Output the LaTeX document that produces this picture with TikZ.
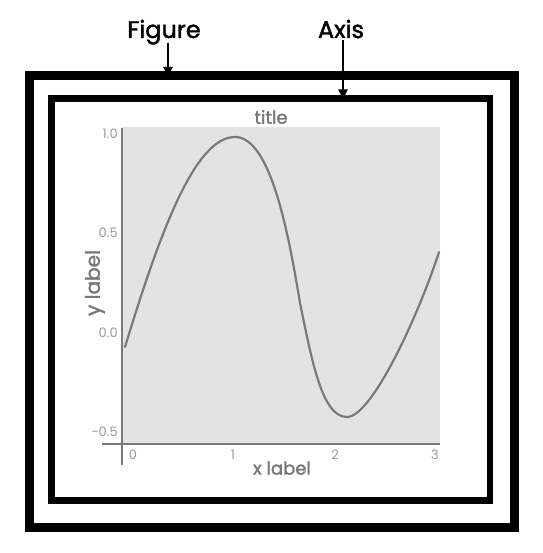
\documentclass[tikz,border=0pt]{standalone}
\usepackage{fontspec}
\setmainfont{Poppins}
\newfontfamily\heavyfont{Poppins}[FakeBold=1.6]
\usepackage{xcolor}
\usetikzlibrary{arrows.meta,positioning}
\definecolor{PlotFill}{HTML}{E3E3E3}
\definecolor{PlotLine}{HTML}{7A7A7A}
\definecolor{PlotText}{HTML}{777777}
\definecolor{TickText}{HTML}{9A9A9A}
\begin{document}
\begin{tikzpicture}[x=1pt,y=-1pt,
  frame/.style={draw=black,inner sep=0pt,outer sep=0pt},
  callout/.style={font=\heavyfont\fontsize{24}{24}\selectfont,anchor=base,text=black,inner sep=0pt},
  pointer/.style={-{Triangle[length=10pt,width=9pt]},draw=black,line width=2pt,shorten >=-1pt},
  spine/.style={draw=PlotLine,line width=2pt},
  tick/.style={font=\fontsize{13}{13}\selectfont,text=TickText,inner sep=0pt},
  axlabel/.style={font=\heavyfont\fontsize{18}{18}\selectfont,text=PlotText,inner sep=0pt}
]
\useasboundingbox[fill=white] (0,0) rectangle (542,553);
% frames
\node[frame,line width=9pt,minimum width=485pt,minimum height=451pt] (fig) at (271.5,301.5) {};
\node[frame,line width=6.5pt,minimum width=438.5pt,minimum height=402pt] (ax) at (270.75,299.5) {};
% callouts
\node[callout] (figlbl) at (164,38) {Figure};
\node[callout] (axlbl) at (341,38) {Axis};
\draw[pointer] ([xshift=4pt,yshift=-5pt]figlbl.base) -- ([xshift=4pt]figlbl.base |- fig.north);
\draw[pointer] ([xshift=2pt,yshift=-2pt]axlbl.base) -- ([xshift=2pt]axlbl.base |- ax.north);
% plot area
\node[fill=PlotFill,inner sep=0pt,minimum width=318pt,minimum height=316pt,anchor=north west] (area) at (122,127) {};
\draw[PlotLine,line width=2.2pt,line cap=round]
  (125,347) .. controls (160,232) and (195,137) .. (235,137)
  .. controls (270,137) and (288,230) .. (300,303)
  .. controls (312,361) and (322,417) .. (347,417)
  .. controls (372,417) and (419,314) .. (439,252);
\coordinate (ytop) at (122,128);
\coordinate (ybot) at (122,465);
\coordinate (xleft) at (102,444);
\coordinate (xright) at (440,444);
\draw[spine] (ytop) -- (ybot);
\draw[spine] (xleft) -- (xright);
% ticks
\node[tick,anchor=east] (y10) at (118,134) {1.0};
\node[tick,anchor=east] (y05) at (118,233) {0.5};
\node[tick,anchor=east] (y00) at (118,333) {0.0};
\node[tick,anchor=east] (ym05) at (118,432) {-0.5};
\node[tick] (x0) at (133,455) {0};
\node[tick] (x1) at (233,455) {1};
\node[tick] (x2) at (335,455) {2};
\node[tick] (x3) at (435,455) {3};
% labels
\node[axlabel] (title) at (271,117) {title};
\node[axlabel] (xlbl) at (282,468) {x label};
\node[axlabel,font=\heavyfont\fontsize{20}{20}\selectfont,rotate=90] (ylbl) at (95,283) {y label};
\end{tikzpicture}
\end{document}
